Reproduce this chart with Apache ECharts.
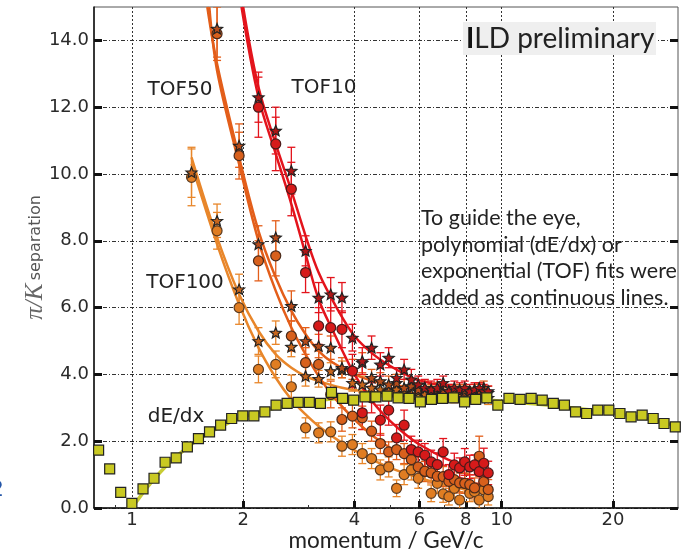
<!DOCTYPE html>
<html>
<head>
<meta charset="utf-8">
<script src="https://cdn.jsdelivr.net/npm/echarts/dist/echarts.min.js"></script>
<style>
html,body{margin:0;padding:0;background:#fff;}
#chart{width:689px;height:554px;}
</style>
</head>
<body>
<div id="chart"></div>
<script>
// ---------------- data ----------------
const X_TICKS = [1, 2, 4, 6, 8, 10, 20];
const X_MINOR = [0.9, 3, 5, 7, 9];
const Y_TICKS = [0, 2, 4, 6, 8, 10, 12, 14];

// dE/dx squares
const DEDX_P = [0.813,0.871,0.933,1.0,1.072,1.148,1.23,1.318,1.413,1.514,1.622,1.738,1.862,1.995,2.138,2.29,2.455,2.63,2.818,3.02,3.236,3.467,3.715,3.98,4.27,4.57,4.9,5.25,5.62,6.03,6.46,6.92,7.41,7.94,8.51,9.12,9.77,10.47,11.22,12.02,12.88,13.8,14.79,15.85,16.98,18.2,19.5,20.9,22.4,24.0,25.7,27.5,29.5];
const DEDX_V = [1.73,1.17,0.47,0.14,0.57,0.89,1.37,1.50,1.83,2.08,2.28,2.48,2.68,2.76,2.76,2.88,3.08,3.13,3.16,3.16,3.13,3.46,3.28,3.23,3.33,3.33,3.35,3.30,3.28,3.18,3.25,3.28,3.30,3.18,3.25,3.30,3.08,3.28,3.25,3.28,3.23,3.13,3.08,2.88,2.83,2.93,2.93,2.83,2.73,2.78,2.68,2.53,2.43];
const DEDX_FIT = [[1.0,0.0],[1.1,0.62],[1.2,1.1],[1.3,1.48],[1.4,1.78],[1.5,2.02],[1.7,2.38],[2.0,2.72],[2.5,3.02],[3.0,3.18],[4.0,3.32],[5.0,3.36],[6.0,3.33],[8.0,3.27],[10,3.2],[15,3.02],[20,2.85],[25,2.66],[30,2.44]];

// TOF points momentum
const TOF_P = [1.45,1.70,1.95,2.20,2.45,2.70,2.95,3.20,3.45,3.70,3.95,4.20,4.45,4.70,4.95,5.20,5.45,5.70,5.95,6.20,6.45,6.70,6.95,7.20,7.45,7.70,7.95,8.20,8.45,8.70,8.95,9.20];

const TOF10_STAR = [null,null,null,12.3,11.3,10.1,7.7,6.3,6.4,6.3,5.1,4.4,4.8,4.3,4.5,3.9,4.15,3.85,3.7,3.6,3.55,3.6,3.75,3.5,3.6,3.55,3.6,3.5,3.55,3.6,3.5,3.5];
const TOF10_STAR_ERR = [null,null,null,0.75,0.7,0.7,0.45,0.45,0.5,0.45,0.4,0.4,0.35,0.35,0.3,0.3,0.3,0.3,0.25,0.25,0.25,0.25,0.2,0.2,0.2,0.2,0.2,0.2,0.2,0.15,0.2,0.15];
const TOF10_CIRC = [null,null,null,12.0,10.9,9.55,7.05,5.45,5.4,5.35,4.1,2.85,3.3,2.63,2.93,2.1,2.48,1.75,1.68,1.58,1.38,1.3,1.68,1.0,1.29,1.2,1.38,1.23,1.29,1.09,1.34,1.05];
const TOF10_CIRC_ERR = [null,null,null,0.9,0.8,0.8,0.6,0.55,0.6,0.55,0.5,0.5,0.45,0.45,0.45,0.4,0.45,0.4,0.35,0.35,0.35,0.35,0.4,0.3,0.35,0.3,0.4,0.35,0.3,0.35,0.45,0.35];

const TOF50_STAR = [null,14.35,10.85,7.9,8.1,6.05,5.0,4.85,4.8,4.2,4.15,4.35,3.9,3.8,3.7,3.75,3.6,3.65,3.55,3.6,3.5,3.55,3.45,3.5,3.45,3.5,3.45,3.4,3.5,3.45,3.6,3.45];
const TOF50_STAR_ERR = [null,0.85,0.65,0.55,0.5,0.45,0.4,0.35,0.35,0.3,0.3,0.3,0.25,0.25,0.25,0.25,0.25,0.2,0.2,0.2,0.2,0.2,0.2,0.2,0.2,0.2,0.2,0.2,0.2,0.25,0.2,0.2];
const TOF50_CIRC = [null,14.2,10.55,7.4,7.55,5.15,4.35,4.3,3.4,2.65,2.75,2.7,2.3,1.93,1.68,1.75,1.63,1.45,1.23,1.1,1.05,0.95,0.94,0.8,0.85,0.75,0.74,0.7,0.6,1.55,0.79,0.55];
const TOF50_CIRC_ERR = [null,0.8,0.7,0.6,0.6,0.45,0.45,0.4,0.4,0.35,0.35,0.35,0.3,0.3,0.3,0.3,0.3,0.3,0.3,0.3,0.3,0.3,0.3,0.3,0.3,0.3,0.3,0.3,0.3,0.6,0.3,0.3];

const TOF100_STAR = [10.05,8.6,6.55,5.0,5.25,4.83,3.95,3.87,4.1,4.15,3.75,3.7,3.6,3.55,3.5,3.55,3.45,3.4,3.5,3.4,3.45,3.35,3.4,3.45,3.35,3.4,3.3,3.4,3.35,3.5,3.4,3.3];
const TOF100_STAR_ERR = [0.75,0.5,0.45,0.4,0.35,0.3,0.3,0.25,0.25,0.25,0.25,0.25,0.2,0.2,0.2,0.2,0.2,0.2,0.2,0.2,0.2,0.2,0.2,0.2,0.2,0.2,0.2,0.2,0.2,0.25,0.2,0.2];
const TOF100_CIRC = [9.9,8.3,6.0,4.15,4.3,3.63,2.4,2.25,2.28,1.85,1.9,1.63,1.48,1.14,1.23,0.59,1.0,1.14,0.89,1.09,0.44,0.74,0.42,0.34,0.59,0.24,0.74,0.44,0.49,0.24,0.54,0.34];
const TOF100_CIRC_ERR = [0.85,0.55,0.5,0.4,0.4,0.35,0.3,0.3,0.3,0.3,0.3,0.3,0.3,0.3,0.3,0.25,0.3,0.3,0.3,0.3,0.25,0.3,0.25,0.25,0.3,0.25,0.3,0.25,0.25,0.25,0.3,0.25];

// fit curves [momentum, separation]
const FIT_TOF10_STAR = [[2.0,15],[2.2,12.6],[2.45,10.9],[2.7,9.5],[2.95,8.15],[3.2,7.05],[3.6,5.95],[4.0,5.15],[4.5,4.6],[5.0,4.25],[5.5,4.0],[6.0,3.82],[7.0,3.66],[8.0,3.57],[9.2,3.52]];
const FIT_TOF10_CIRC = [[1.98,15],[2.2,12.3],[2.45,10.6],[2.7,9.1],[2.95,7.6],[3.2,6.25],[3.5,5.3],[4.0,4.0],[4.5,3.15],[5.0,2.6],[5.5,2.2],[6.0,1.9],[7.0,1.5],[8.0,1.25],[9.2,1.05]];
const FIT_TOF50_STAR = [[1.6,15],[1.7,13.3],[1.95,10.5],[2.2,8.3],[2.45,6.9],[2.7,5.9],[2.95,5.2],[3.2,4.7],[3.5,4.35],[4.0,4.0],[4.5,3.8],[5.0,3.7],[6.0,3.58],[7.0,3.52],[8.0,3.48],[9.2,3.45]];
const FIT_TOF50_CIRC = [[1.62,15],[1.7,13.1],[1.95,10.3],[2.2,8.0],[2.45,6.5],[2.7,5.4],[2.95,4.6],[3.2,3.95],[3.5,3.35],[4.0,2.65],[4.5,2.15],[5.0,1.8],[5.5,1.52],[6.0,1.3],[7.0,1.0],[8.0,0.8],[9.2,0.6]];
const FIT_TOF100_STAR = [[1.45,10.5],[1.7,8.1],[1.95,6.4],[2.2,5.3],[2.45,4.6],[2.7,4.2],[2.95,3.95],[3.2,3.8],[3.7,3.6],[4.2,3.5],[5.0,3.45],[6.0,3.4],[7.0,3.37],[8.0,3.35],[9.2,3.33]];
const FIT_TOF100_CIRC = [[1.45,10.3],[1.7,7.9],[1.95,6.1],[2.2,4.8],[2.45,3.9],[2.7,3.25],[2.95,2.8],[3.2,2.45],[3.7,1.95],[4.2,1.6],[5.0,1.2],[6.0,0.9],[7.0,0.7],[8.0,0.55],[9.2,0.4]];

// ---------------- chart ----------------
const STAR = 'path://M50,0L62.9,32.3L97.55,34.55L70.9,56.8L79.39,90.45L50,72L20.61,90.45L29.1,56.8L2.45,34.55L37.1,32.3Z';
const C10 = '#e3141c', C50 = '#e35e1a', C100 = '#e8862a';

function pairs(xs, ys){ const out=[]; for(let i=0;i<xs.length;i++){ if(ys[i]!=null) out.push([xs[i], ys[i]]); } return out; }
function triples(xs, ys, es){ const out=[]; for(let i=0;i<xs.length;i++){ if(ys[i]!=null) out.push([xs[i], ys[i], es[i]]); } return out; }

function errSeries(xs, ys, es, color){
  return {
    type:'custom', clip:true, z:2, silent:true,
    data: triples(xs, ys, es),
    encode:{x:0, y:1},
    renderItem:function(params, api){
      const x=api.value(0), y=api.value(1), e=api.value(2);
      const t=api.coord([x, y+e]), b=api.coord([x, y-e]);
      const w=4, st={stroke:color, lineWidth:1.3};
      return {type:'group', children:[
        {type:'line', shape:{x1:t[0],y1:t[1],x2:b[0],y2:b[1]}, style:st},
        {type:'line', shape:{x1:t[0]-w,y1:t[1],x2:t[0]+w,y2:t[1]}, style:st},
        {type:'line', shape:{x1:b[0]-w,y1:b[1],x2:b[0]+w,y2:b[1]}, style:st}
      ]};
    }
  };
}
function pointSeries(xs, ys, symbol, size, fill, border){
  return {type:'scatter', data:pairs(xs, ys), symbol:symbol, symbolSize:size, symbolKeepAspect:true, z:4, silent:true,
    itemStyle:{color:fill, borderColor:border, borderWidth:1.2, opacity:1}};
}
function fitSeries(data, color, width){
  return {type:'line', data:data, smooth:0.35, showSymbol:false, symbol:'none', z:3, silent:true,
    lineStyle:{color:color, width:width}, clip:true};
}

const chart = echarts.init(document.getElementById('chart'), null, {renderer:'canvas'});
const axisFont = {fontFamily:'DejaVu Sans', fontSize:18, color:'#2a2a2a'};

chart.setOption({
  animation:false,
  backgroundColor:'#fff',
  grid:{left:94, right:11, top:7, bottom:46, show:true, borderColor:'#555', borderWidth:1, backgroundColor:'transparent', containLabel:false, outerBoundsMode:'none'},
  xAxis:[{
    type:'log', min:0.79, max:30, position:'bottom',
    name:'momentum / GeV/c', nameLocation:'middle', nameGap:21, nameMoveOverlap:false,
    nameTextStyle:{fontFamily:'Lato', fontSize:22.5, color:'#222'},
    axisLine:{show:true, lineStyle:{color:'#111', width:1.5}},
    axisTick:{show:true, inside:true, length:7, lineStyle:{color:'#111', width:3}, customValues:X_TICKS},
    axisLabel:Object.assign({margin:3, customValues:X_TICKS, formatter:function(v){return String(Math.round(v));}}, axisFont),
    splitLine:{show:true, lineStyle:{color:'#333', width:1, type:[2,2]}},
    minorTick:{show:false}, minorSplitLine:{show:false}
  },{
    type:'log', min:0.79, max:30, position:'bottom',
    axisLine:{show:false},
    axisTick:{show:true, inside:true, length:3, lineStyle:{color:'#333', width:1}, customValues:X_MINOR},
    axisLabel:{show:false, customValues:X_MINOR},
    splitLine:{show:false}
  }],
  yAxis:[{
    type:'value', min:0, max:15, position:'left',
    name:'{m|π/K} {s|separation}', nameLocation:'middle', nameGap:46, nameMoveOverlap:false,
    nameTextStyle:{rich:{
      m:{fontFamily:'Liberation Serif', fontStyle:'italic', fontSize:25, color:'#666'},
      s:{fontFamily:'DejaVu Sans', fontSize:16, color:'#555'}
    }},
    axisLine:{show:true, lineStyle:{color:'#111', width:1.5}},
    axisTick:{show:true, inside:true, length:8, lineStyle:{color:'#111', width:3}, customValues:Y_TICKS},
    axisLabel:Object.assign({margin:5, customValues:Y_TICKS, formatter:function(v){return v.toFixed(1);}}, axisFont),
    splitLine:{show:true, lineStyle:{color:'#333', width:1, type:[4,2,1,2]}}
  },{
    type:'value', min:0, max:15, position:'right',
    axisLine:{show:false},
    axisTick:{show:true, inside:true, length:8, lineStyle:{color:'#111', width:3}, customValues:Y_TICKS},
    axisLabel:{show:false, customValues:Y_TICKS},
    splitLine:{show:false}
  }],
  series:[
    fitSeries(DEDX_FIT, '#c8cc34', 3.5),
    errSeries(TOF_P, TOF100_CIRC, TOF100_CIRC_ERR, C100),
    errSeries(TOF_P, TOF100_STAR, TOF100_STAR_ERR, C100),
    errSeries(TOF_P, TOF50_CIRC, TOF50_CIRC_ERR, C50),
    errSeries(TOF_P, TOF50_STAR, TOF50_STAR_ERR, C50),
    errSeries(TOF_P, TOF10_CIRC, TOF10_CIRC_ERR, C10),
    errSeries(TOF_P, TOF10_STAR, TOF10_STAR_ERR, C10),
    pointSeries(TOF_P, TOF100_CIRC, 'circle', 10, '#e07d22', '#5a3a20'),
    pointSeries(TOF_P, TOF100_STAR, STAR, 11, '#c8661c', '#222'),
    pointSeries(TOF_P, TOF50_CIRC, 'circle', 10, '#d8601c', '#4a2a1a'),
    pointSeries(TOF_P, TOF50_STAR, STAR, 11, '#b84c1a', '#222'),
    pointSeries(TOF_P, TOF10_CIRC, 'circle', 10, '#d61a1a', '#4a1a1a'),
    pointSeries(TOF_P, TOF10_STAR, STAR, 11, '#b01616', '#222'),
    fitSeries(FIT_TOF100_STAR, C100, 2.5),
    fitSeries(FIT_TOF100_CIRC, C100, 2.5),
    fitSeries(FIT_TOF50_STAR, C50, 2.5),
    fitSeries(FIT_TOF50_CIRC, C50, 2.5),
    fitSeries(FIT_TOF10_STAR, C10, 2.5),
    fitSeries(FIT_TOF10_CIRC, C10, 2.5),
    Object.assign(pointSeries(DEDX_P, DEDX_V, 'rect', 10, '#c9c922', '#222'), {z:5})
  ],
  graphic:[
    {type:'rect', z:100, shape:{x:463, y:22, width:193, height:33}, style:{fill:'#efefef'}},
    {type:'text', z:101, x:466, y:39, style:{text:'{b|I}{n|LD preliminary}', verticalAlign:'middle', rich:{
      b:{fontFamily:'Lato', fontWeight:'bold', fontSize:28, fill:'#111'},
      n:{fontFamily:'Lato', fontSize:28, fill:'#222'}}}},
    {type:'text', z:101, x:180, y:90, style:{text:'TOF50', font:'20px "DejaVu Sans"', fill:'#222', align:'center', verticalAlign:'middle'}},
    {type:'text', z:101, x:324, y:88, style:{text:'TOF10', font:'20px "DejaVu Sans"', fill:'#222', align:'center', verticalAlign:'middle'}},
    {type:'text', z:101, x:185, y:283, style:{text:'TOF100', font:'20px "DejaVu Sans"', fill:'#222', align:'center', verticalAlign:'middle'}},
    {type:'text', z:101, x:176, y:417, style:{text:'dE/dx', font:'20px "DejaVu Sans"', fill:'#222', align:'center', verticalAlign:'middle'}},
    {type:'text', z:101, x:421, y:205, style:{text:'To guide the eye,\npolynomial (dE/dx) or\nexponential (TOF) fits were\nadded as continuous lines.', font:'21.5px Lato', lineHeight:26.5, fill:'#222', align:'left', verticalAlign:'top'}},
    {type:'text', z:101, x:-10, y:490, style:{text:'2', font:'22px "DejaVu Sans"', fill:'#2456a8', align:'left', verticalAlign:'middle'}}
  ]
});
</script>
</body>
</html>
